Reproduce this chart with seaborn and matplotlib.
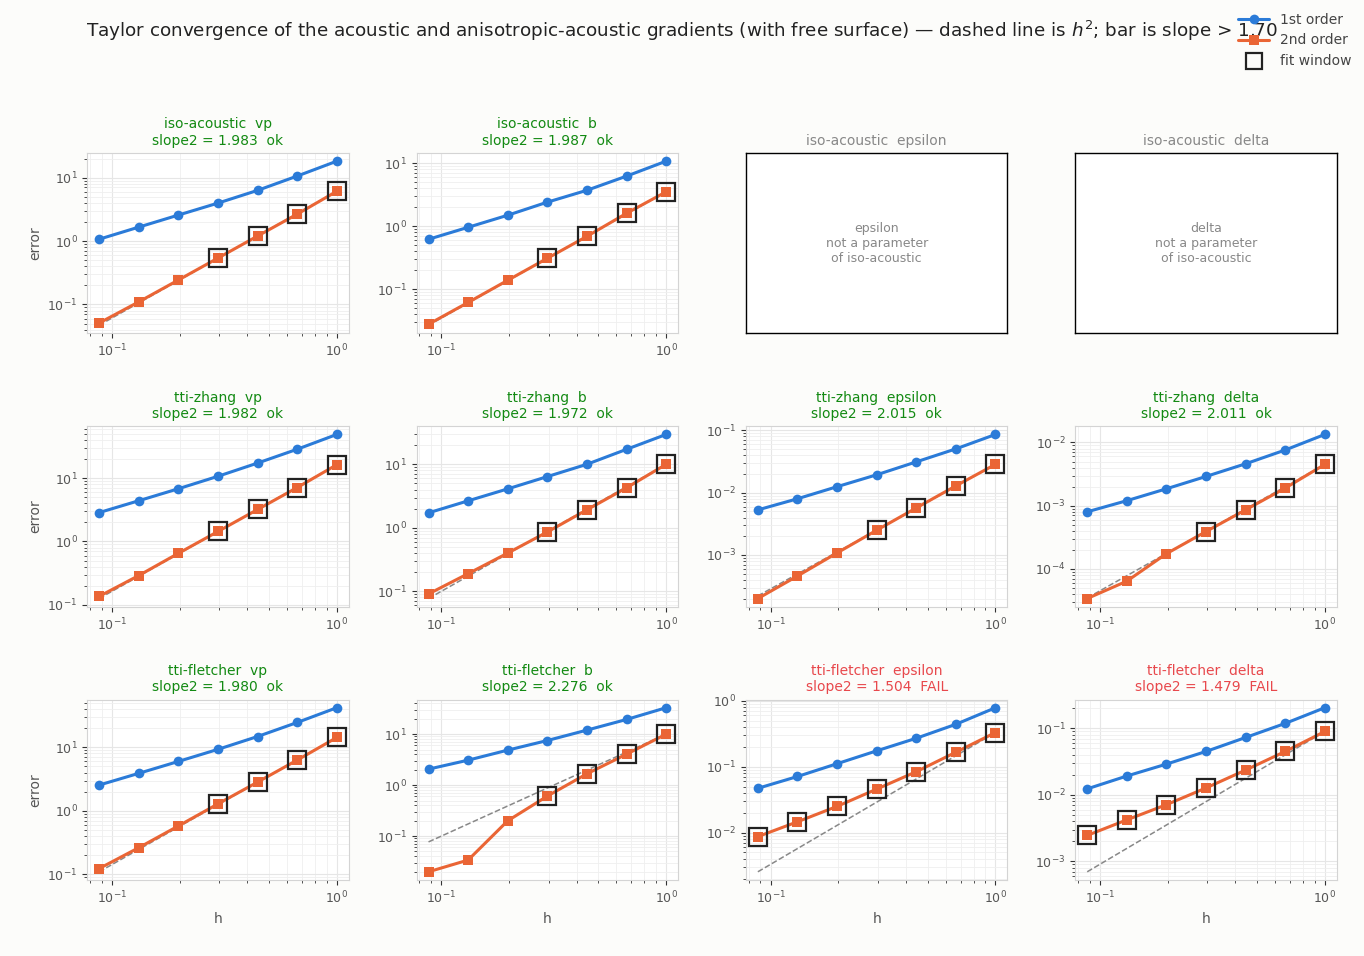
import numpy as np
import pandas as pd
import seaborn as sns
import matplotlib
matplotlib.use("Agg")
from matplotlib import pyplot as plt
from matplotlib.lines import Line2D

# step sizes (h = (2/3)^k)
h = [0.0878, 0.1317, 0.1975, 0.2963, 0.4444, 0.6667, 1.0]

models = ['iso-acoustic', 'tti-zhang', 'tti-fletcher']
params = ['vp', 'b', 'epsilon', 'delta']

# errors, 1st and 2nd order Taylor remainders
err1 = {
    ('iso-acoustic', 'vp'): [1.07, 1.66, 2.57, 3.97, 6.3, 10.6, 18.2],
    ('iso-acoustic', 'b'): [0.62, 0.96, 1.49, 2.4, 3.7, 6.2, 10.7],
    ('tti-zhang', 'vp'): [2.86, 4.4, 6.8, 10.7, 17.3, 28.6, 49.0],
    ('tti-zhang', 'b'): [1.72, 2.66, 4.1, 6.4, 10.0, 17.2, 29.5],
    ('tti-zhang', 'epsilon'): [0.0053, 0.0080, 0.0125, 0.0194, 0.0313, 0.0506, 0.0863],
    ('tti-zhang', 'delta'): [0.0008, 0.0012, 0.00185, 0.0029, 0.0046, 0.0076, 0.0134],
    ('tti-fletcher', 'vp'): [2.55, 3.9, 6.0, 9.3, 14.8, 24.6, 42.0],
    ('tti-fletcher', 'b'): [2.06, 3.09, 4.86, 7.5, 12.0, 19.4, 33.0],
    ('tti-fletcher', 'epsilon'): [0.047, 0.071, 0.111, 0.174, 0.27, 0.44, 0.785],
    ('tti-fletcher', 'delta'): [0.0123, 0.0192, 0.029, 0.045, 0.073, 0.119, 0.205],
}
err2 = {
    ('iso-acoustic', 'vp'): [0.051, 0.11, 0.243, 0.54, 1.2, 2.66, 6.1],
    ('iso-acoustic', 'b'): [0.028, 0.062, 0.139, 0.31, 0.69, 1.6, 3.5],
    ('tti-zhang', 'vp'): [0.136, 0.29, 0.65, 1.44, 3.2, 7.1, 16.3],
    ('tti-zhang', 'b'): [0.091, 0.19, 0.40, 0.86, 1.92, 4.26, 10.0],
    ('tti-zhang', 'epsilon'): [0.0002, 0.00046, 0.00108, 0.0025, 0.0057, 0.0129, 0.0286],
    ('tti-zhang', 'delta'): [3.4e-5, 6.4e-5, 1.74e-4, 3.9e-4, 8.6e-4, 1.9e-3, 4.5e-3],
    ('tti-fletcher', 'vp'): [0.124, 0.264, 0.58, 1.29, 2.84, 6.3, 14.3],
    ('tti-fletcher', 'b'): [0.020, 0.034, 0.20, 0.61, 1.67, 4.05, 10.0],
    ('tti-fletcher', 'epsilon'): [0.0087, 0.0146, 0.025, 0.0457, 0.084, 0.166, 0.33],
    ('tti-fletcher', 'delta'): [0.00245, 0.0042, 0.0071, 0.0127, 0.0236, 0.045, 0.09],
}
slope2 = {
    ('iso-acoustic', 'vp'): 1.983, ('iso-acoustic', 'b'): 1.987,
    ('tti-zhang', 'vp'): 1.982, ('tti-zhang', 'b'): 1.972,
    ('tti-zhang', 'epsilon'): 2.015, ('tti-zhang', 'delta'): 2.011,
    ('tti-fletcher', 'vp'): 1.980, ('tti-fletcher', 'b'): 2.276,
    ('tti-fletcher', 'epsilon'): 1.504, ('tti-fletcher', 'delta'): 1.479,
}
# number of points (from largest h) in the fit window
fit_n = {
    ('tti-fletcher', 'epsilon'): 7, ('tti-fletcher', 'delta'): 7,
}
bar = 1.70

c1 = '#2b7bd8'
c2 = '#ea6535'

sns.set_style('whitegrid')
plt.rcParams.update({
    'figure.facecolor': '#fcfcfa',
    'axes.edgecolor': '#d4d4d4',
    'grid.color': '#e6e6e6',
    'xtick.bottom': True, 'ytick.left': True,
    'xtick.color': '#333333', 'ytick.color': '#333333',
    'xtick.labelcolor': '#555555', 'ytick.labelcolor': '#555555',
    'xtick.labelsize': 9, 'ytick.labelsize': 9,
    'axes.labelcolor': '#555555', 'axes.labelsize': 10,
})
plt.rcParams['font.family'] = ['DejaVu Sans']

fig, axes = plt.subplots(3, 4, figsize=(13.64, 9.56), dpi=100)
fig.subplots_adjust(left=0.064, right=0.980, top=0.840, bottom=0.0795,
                    wspace=0.26, hspace=0.514)

for i, m in enumerate(models):
    for j, p in enumerate(params):
        ax = axes[i, j]
        key = (m, p)
        if key not in err1:
            ax.set_facecolor('white')
            ax.grid(False)
            ax.set_xticks([])
            ax.set_yticks([])
            for s in ax.spines.values():
                s.set_color('black')
                s.set_linewidth(1.0)
            ax.set_title(f'{m}  {p}', color='#888888', fontsize=10)
            ax.text(0.5, 0.5, f'{p}\nnot a parameter\nof {m}', ha='center', va='center',
                    transform=ax.transAxes, color='#888888', fontsize=9)
            continue

        df = pd.DataFrame({
            'h': h * 2,
            'err': err1[key] + err2[key],
            'order': ['1st order'] * len(h) + ['2nd order'] * len(h),
        })
        # h^2 reference through the largest-h point
        ref = np.array(h) ** 2 * err2[key][-1]
        ax.plot(h, ref, ls='--', color='#888888', lw=1.1, zorder=1)
        sns.lineplot(data=df, x='h', y='err', hue='order', style='order',
                     markers={'1st order': 'o', '2nd order': 's'}, dashes=False,
                     palette={'1st order': c1, '2nd order': c2},
                     markersize=7, markeredgewidth=0, linewidth=2.2,
                     legend=False, ax=ax, zorder=2)
        n = fit_n.get(key, 4)
        ax.plot(h[-n:], err2[key][-n:], ls='none', marker='s', ms=12.5, mfc='none',
                mec='#222222', mew=1.6, zorder=3)
        ax.set_xscale('log')
        ax.set_yscale('log')
        ax.grid(which='major', color='#e6e6e6', lw=0.8)
        ax.grid(which='minor', color='#efefef', lw=0.6)
        ax.tick_params(which='major', length=3.5, width=0.8)
        ax.tick_params(which='minor', length=2, width=0.6)
        s2 = slope2[key]
        ok = s2 > bar
        ax.set_title(f'{m}  {p}\nslope2 = {s2:.3f}  {"ok" if ok else "FAIL"}',
                     color='#138a13' if ok else '#e8484c', fontsize=10)
        ax.set_xlabel('h' if i == 2 else '')
        ax.set_ylabel('error' if j == 0 else '')

fig.suptitle('Taylor convergence of the acoustic and anisotropic-acoustic gradients '
             '(with free surface) — dashed line is $h^2$; bar is slope > 1.70',
             fontsize=13.2, y=0.980, color='#222222')

handles = [
    Line2D([], [], color=c1, marker='o', lw=2.2, ms=7, mew=0),
    Line2D([], [], color=c2, marker='s', lw=2.2, ms=7, mew=0),
    Line2D([], [], ls='none', marker='s', ms=11, mfc='none', mec='#222222', mew=1.6),
]
leg = fig.legend(handles, ['1st order', '2nd order', 'fit window'], loc='upper right',
                 bbox_to_anchor=(1.0, 1.0), frameon=False, fontsize=10,
                 handlelength=2.2, labelspacing=0.5)
for t in leg.get_texts():
    t.set_color('#444444')

fig.savefig('out.png', dpi=100, facecolor=fig.get_facecolor())
